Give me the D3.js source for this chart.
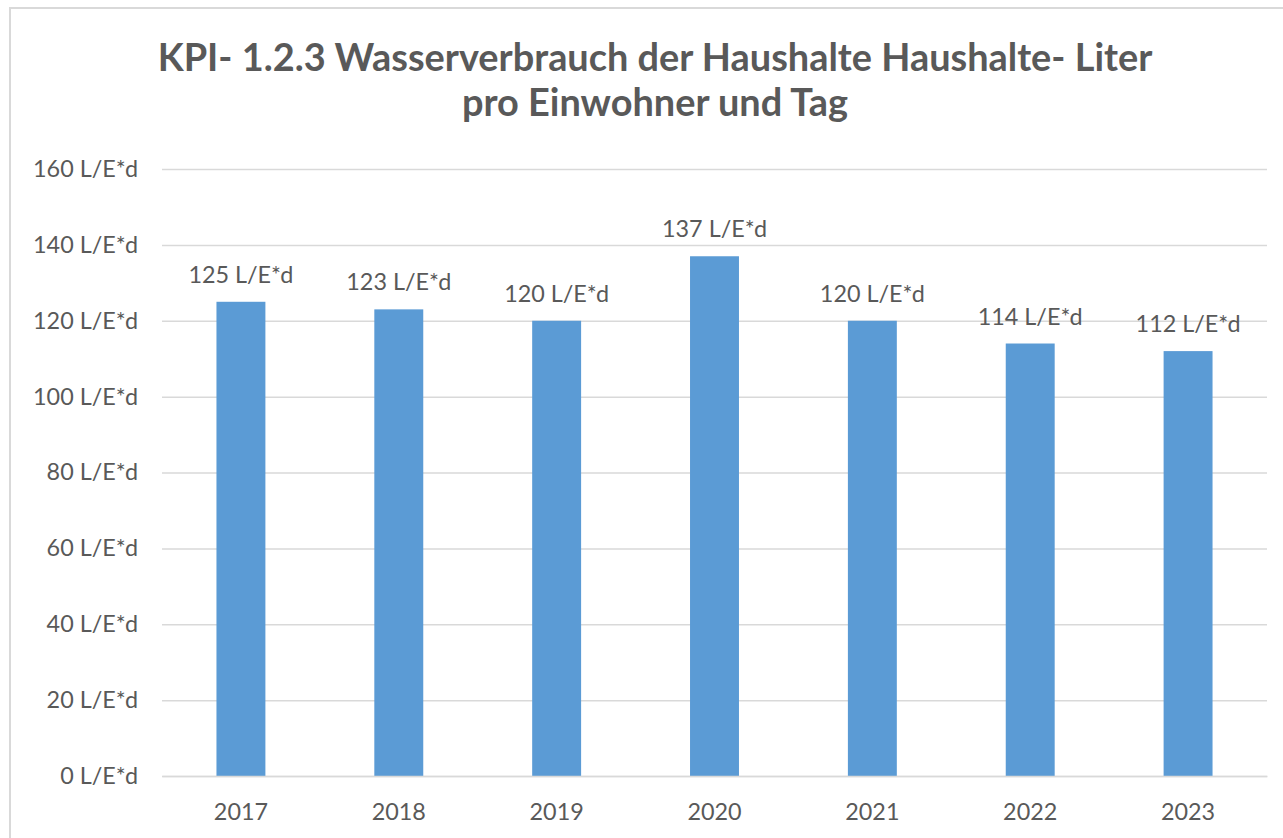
<!DOCTYPE html>
<html>
<head>
<meta charset="utf-8">
<script src="https://cdn.jsdelivr.net/npm/d3@7"></script>
<style>
  body { margin: 0; background: #fff; }
  svg { display: block; }
</style>
</head>
<body>
<svg id="chart" width="1283" height="838"></svg>
<script>
// Wasserverbrauch der Haushalte, Liter pro Einwohner und Tag
var years = ["2017", "2018", "2019", "2020", "2021", "2022", "2023"];
var values = [125, 123, 120, 137, 120, 114, 112];
var yTicks = [0, 20, 40, 60, 80, 100, 120, 140, 160];
var unit = " L/E*d";
var titleLines = ["KPI- 1.2.3 Wasserverbrauch der Haushalte Haushalte- Liter", "pro Einwohner und Tag"];

var W = 1283, H = 838;
var font = "Lato, 'Open Sans', sans-serif";
var textCol = "#595959";
var gridCol = "#d9d9d9";

var svg = d3.select("#chart");

// chart border (right/bottom edges run off the picture)
svg.append("rect")
    .attr("x", 10).attr("y", 8)
    .attr("width", W + 20).attr("height", H + 20)
    .attr("fill", "#fff")
    .attr("stroke", gridCol)
    .attr("stroke-width", 2);

var x = d3.scaleBand()
    .domain(years)
    .range([162, 1267])
    .paddingInner(0.69)
    .paddingOuter(0.345);

var y = d3.scaleLinear()
    .domain([0, 160])
    .range([776, 169]);

// fit text to a width
function fitText(sel, targetWidth) {
    var w = sel.node().getComputedTextLength();
    var fs = parseFloat(sel.attr("font-size"));
    sel.attr("font-size", fs * targetWidth / w);
}

// title
var t1 = svg.append("text")
    .attr("x", 655).attr("y", 71)
    .attr("text-anchor", "middle")
    .attr("font-family", font)
    .attr("font-weight", "bold")
    .attr("font-size", 36)
    .attr("fill", textCol)
    .text(titleLines[0]);
fitText(t1, 995);
svg.append("text")
    .attr("x", 655).attr("y", 116)
    .attr("text-anchor", "middle")
    .attr("font-family", font)
    .attr("font-weight", "bold")
    .attr("font-size", t1.attr("font-size"))
    .attr("fill", textCol)
    .text(titleLines[1]);

// y axis with gridlines
var yAxis = d3.axisLeft(y)
    .tickValues(yTicks)
    .tickSize(-(1267 - 162))
    .tickPadding(24)
    .tickFormat(function (d) { return d + unit; });

var gy = svg.append("g")
    .attr("transform", "translate(162,0)")
    .call(yAxis);
gy.select(".domain").remove();
gy.selectAll(".tick line")
    .attr("stroke", gridCol)
    .attr("stroke-width", 1.5);
gy.selectAll(".tick text")
    .attr("font-family", font)
    .attr("font-size", 21)
    .attr("fill", textCol);
var lbl = gy.select(".tick:last-of-type text");
var scaleFs = 21 * 105 / lbl.node().getComputedTextLength();
gy.selectAll(".tick text").attr("font-size", scaleFs);

// bars
svg.append("g")
    .selectAll("rect")
    .data(values)
    .join("rect")
    .attr("x", function (d, i) { return x(years[i]); })
    .attr("y", function (d) { return y(d); })
    .attr("width", x.bandwidth())
    .attr("height", function (d) { return y(0) - y(d); })
    .attr("fill", "#5b9bd5");

// value labels
svg.append("g")
    .selectAll("text")
    .data(values)
    .join("text")
    .attr("x", function (d, i) { return x(years[i]) + x.bandwidth() / 2; })
    .attr("y", function (d) { return y(d) - 19; })
    .attr("text-anchor", "middle")
    .attr("font-family", font)
    .attr("font-size", scaleFs)
    .attr("fill", textCol)
    .text(function (d) { return d + unit; });

// x axis
var gx = svg.append("g")
    .attr("transform", "translate(0,776)")
    .call(d3.axisBottom(x).tickSize(0).tickPadding(27));
gx.select(".domain")
    .attr("stroke", gridCol)
    .attr("stroke-width", 1.5);
gx.selectAll(".tick text")
    .attr("font-family", font)
    .attr("font-size", scaleFs)
    .attr("fill", textCol);
</script>
</body>
</html>
